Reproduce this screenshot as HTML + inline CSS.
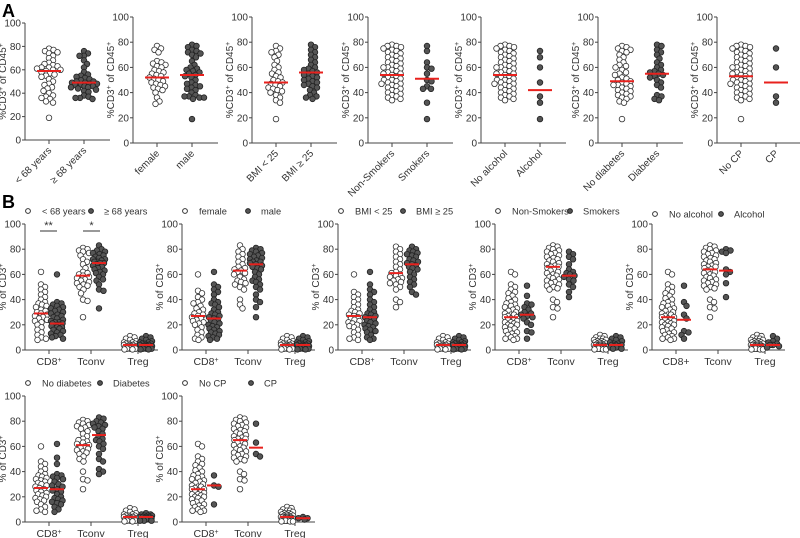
<!DOCTYPE html>
<html><head><meta charset="utf-8"><style>
html,body{margin:0;padding:0;background:#fff}
svg{display:block;font-family:"Liberation Sans",Arial,sans-serif}
</style></head><body>
<svg id="chart" width="800" height="538" viewBox="0 0 800 538" xmlns="http://www.w3.org/2000/svg">
<text x="2" y="17" font-size="18" font-weight="bold">A</text>
<text x="2" y="208" font-size="18" font-weight="bold">B</text>
</svg>
<script>
// ---------- Panel A data ----------
const aLabels = [["< 68 years","≥ 68 years"],["female","male"],["BMI < 25","BMI ≥ 25"],["Non-Smokers","Smokers"],["No alcohol","Alcohol"],["No diabetes","Diabetes"],["No CP","CP"]];
const aOpen = [
 [78,77,76,75,74,72,70,68,66,65,64,63,62,62,61,60,60,59,58,57,56,55,54,52,50,48,47,45,44,42,40,38,37,36,35,33,32,19],
 [77,75,74,72,65,64,63,62,61,60,58,57,56,55,54,53,52,51,50,49,48,47,46,45,44,43,42,40,36,33,31],
 [77,75,73,72,70,68,65,62,60,58,56,55,53,52,50,49,48,47,46,45,44,43,42,41,40,38,36,34,32,19],
 [78,77,77,76,75,74,73,72,71,70,69,68,67,66,65,64,63,62,61,60,60,59,58,57,56,55,55,54,53,52,51,50,50,49,48,47,47,46,45,44,43,42,41,40,39,38,37,36,35,34],
 [78,77,77,76,75,74,73,72,71,70,69,68,67,66,65,64,63,62,61,60,60,59,58,57,56,55,55,54,53,52,51,50,50,49,48,47,47,46,45,44,43,42,41,40,39,38,37,36,35,34],
 [77,76,75,74,73,72,70,68,66,64,62,61,60,58,56,55,54,52,51,50,49,48,47,46,46,45,44,43,42,41,40,39,38,37,36,35,33,32,19],
 [78,77,77,76,75,74,73,72,71,70,69,68,67,66,65,64,63,62,61,60,60,59,58,57,56,55,55,54,53,52,51,50,50,49,48,47,47,46,45,44,43,42,41,40,39,38,37,36,35,34,19]
];
const aFilled = [
 [76,74,72,72,68,65,62,58,56,55,54,53,52,51,50,50,49,49,48,48,47,47,46,46,45,45,44,43,42,41,38,37,36,36,35],
 [78,77,76,74,73,72,71,70,68,65,62,60,59,58,57,56,55,54,53,52,50,48,47,46,45,44,43,42,40,38,37,37,36,36,35,19],
 [78,76,74,72,70,68,66,64,62,60,59,58,57,56,55,54,53,52,51,50,49,48,47,46,45,44,42,40,38,37,36,35],
 [77,73,64,60,59,55,50,49,45,43,43,32,19],
 [73,68,60,48,37,32,19],
 [78,77,74,72,70,67,64,62,60,58,57,56,55,54,53,52,50,48,46,44,38,37,35,34],
 [75,60,37,32]
];
const aLineOpen = [59,52,48,54,54,49,53];
const aLineFilled = [49,54,56,51,42,55,48];
const aTicks = [0,20,40,60,80,100];

// ---------- Panel B data ----------
const bCategories = [["CD8","+"],["Tconv",""],["Treg",""]];
const bLegend = [["< 68 years","≥ 68 years"],["female","male"],["BMI < 25","BMI ≥ 25"],["Non-Smokers","Smokers"],["No alcohol","Alcohol"],["No diabetes","Diabetes"],["No CP","CP"]];
const cd8Big = [62,60,52,50,48,46,45,43,41,40,38,37,36,35,34,33,32,31,30,29,28,28,27,26,26,25,24,24,23,22,22,21,20,20,19,18,17,16,15,14,13,12,11,10,9,9,8];
const tconvBig = [83,82,81,80,79,78,77,76,75,74,73,72,71,70,69,68,67,66,66,65,64,63,62,61,60,59,58,57,56,55,54,53,52,51,50,49,48,40,38,34,33,26];
const tregBig = [12,11,10,9,9,8,8,7,7,6,6,6,5,5,5,5,4,4,4,4,4,3,3,3,3,3,2,2,2,2,2,1,1,1,1,1,0.5,0.5,0.5];
const tregMid = [11,10,9,8,7,6,6,5,5,5,4,4,4,4,3,3,3,3,2,2,2,1,1,1,0.5,0.5];
const bOpen = [
 [[62,52,50,48,46,44,42,40,38,37,36,35,34,32,31,30,29,28,27,26,25,24,23,22,20,18,16,14,12,10,9,8],
  [81,80,79,78,77,75,72,70,68,65,62,61,60,59,58,57,56,55,54,53,52,51,50,48,45,40,39,26], tregMid],
 [[60,47,45,42,40,38,37,35,33,32,30,29,28,27,26,25,24,23,22,21,20,18,16,14,12,10,9,8],
  [83,80,78,76,74,72,70,68,66,65,64,63,62,61,60,58,56,55,54,53,52,50,48,40,36,33], tregMid],
 [[60,46,44,42,40,38,36,34,32,31,30,29,28,27,26,25,24,23,22,21,20,19,18,16,14,12,10,9,8],
  [82,80,78,76,74,72,70,68,66,64,62,61,60,59,58,57,56,55,54,53,52,50,48,40,38,34], tregMid],
 [cd8Big, tconvBig, tregBig],
 [cd8Big, tconvBig, tregBig],
 [[60,48,46,44,42,40,38,37,36,35,34,33,32,31,30,29,28,27,26,25,24,23,22,21,20,19,18,17,16,14,12,10,9,8],
  [81,80,79,78,77,76,75,74,72,70,68,66,65,64,63,62,61,60,59,58,57,56,55,54,52,50,48,40,34,33,26], tregMid],
 [cd8Big, tconvBig, tregBig]
];
const bFilled = [
 [[60,38,37,36,35,34,33,32,31,30,29,28,27,26,25,24,23,22,22,21,21,20,20,19,19,18,18,17,16,15,14,13,12,11,10,9],
  [83,80,79,78,77,76,75,74,73,72,72,71,70,70,69,69,68,67,66,65,64,63,62,61,60,58,56,55,52,48,47,33], tregMid],
 [[62,52,50,48,46,44,40,38,37,36,34,32,30,29,28,27,26,25,24,23,22,21,20,19,18,17,16,15,14,13,12,11,10,9,8],
  [81,80,79,78,77,76,75,74,73,72,71,70,70,69,68,67,66,65,64,62,60,58,56,55,54,52,50,48,44,40,38,34,26], tregMid],
 [[62,52,48,46,44,40,38,36,34,32,30,29,28,27,26,25,24,23,22,21,20,19,18,17,16,15,14,12,10,9,8],
  [82,80,79,78,77,76,75,74,72,71,70,69,68,67,66,65,64,62,60,58,56,54,52,50,46,44], tregMid],
 [[51,43,37,36,34,32,30,29,28,27,26,25,22,20,15,14,9],
  [78,76,74,72,68,64,62,61,60,59,58,56,55,52,50,46,42],
  [11,10,9,8,7,6,5,5,4,4,4,3,3,2,2,1,1]],
 [[51,38,35,28,25,15,14,12,9],[80,79,78,77,64,62,60,53,42],[11,9,7,6,5,4,4,3,2]],
 [[62,51,46,38,37,36,35,34,32,30,29,28,26,25,24,22,20,19,18,17,16,15,14,12,10,8],
  [83,82,80,79,78,77,76,75,74,72,70,68,66,65,64,62,60,58,54,50,48,42,40,38],
  [7,6,6,5,5,5,4,4,4,4,3,3,3,2,2,2,1,1,1]],
 [[37,29,28,14],[78,63,52,54],[4,3,3,2]]
];
const bLineOpen = [[29,59,4],[27,63,4],[27,61,4],[26,66,4],[26,64,4],[27,61,4],[26,65,4]];
const bLineFilled = [[21,69,4],[25,68,4],[26,68,4],[28,59,4],[24,63,4],[26,69,4],[29,59,3]];
const bTicks = [0,20,40,60,80,100];

// ---------- drawing ----------
const NS = "http://www.w3.org/2000/svg";
const svg = document.getElementById("chart");
function mk(tag, attrs, parent) {
  const e = document.createElementNS(NS, tag);
  for (const k in attrs) e.setAttribute(k, attrs[k]);
  (parent || svg).appendChild(e);
  return e;
}
const R = 2.8;
function swarm(values, cx, yScale, maxHalf) {
  const placed = [];
  const sorted = values.slice().sort((a, b) => b - a);
  const thr = 1.6 * R;
  for (const v of sorted) {
    const y = yScale(v);
    let chosen = null, bestX = cx, bestD = -1;
    for (let k = 0; ; k++) {
      const off = (k % 2 ? 1 : -1) * Math.ceil(k / 2) * 0.5;
      if (Math.abs(off) > maxHalf) break;
      const x = cx + off;
      let md = 1e9;
      for (const p of placed) {
        const dx = p[0] - x, dy = p[1] - y;
        md = Math.min(md, Math.sqrt(dx * dx + dy * dy));
      }
      if (md >= thr) { chosen = x; break; }
      if (md > bestD + 0.3) { bestD = md; bestX = x; }
    }
    if (chosen === null) chosen = bestX;
    placed.push([chosen, y]);
  }
  return placed;
}
function drawDots(g, values, cx, yScale, filled, name, maxHalf) {
  for (const [x, y] of swarm(values, cx, yScale, maxHalf)) {
    const c = mk("circle", {cx: x.toFixed(1), cy: y.toFixed(1), r: R, fill: filled ? "#555" : "#fff", stroke: filled ? "#222" : "#333", "stroke-width": 0.8}, g);
    
    
  }
}
function drawLine(g, v, cx, yScale, name, hw) {
  const l = mk("line", {x1: cx - hw, x2: cx + hw, y1: yScale(v), y2: yScale(v), stroke: "#e8211d", "stroke-width": 2}, g);
  
  
}
function yAxis(g, ax, top, bot, ticks, label, labelX) {
  const ys = v => bot - (bot - top) * v / 100;
  mk("line", {x1: ax, x2: ax, y1: top, y2: bot, stroke: "#444", "stroke-width": 1}, g);
  for (const t of ticks) {
    mk("line", {x1: ax - 3, x2: ax, y1: ys(t), y2: ys(t), stroke: "#444"}, g);
    const tx = mk("text", {x: ax - 4, y: ys(t) + 3.5, "font-size": 10, "text-anchor": "end", fill: "#333"}, g);
    tx.textContent = t;
  }
  const cy = (top + bot) / 2;
  const tl = mk("text", {transform: `translate(${labelX},${cy}) rotate(-90)`, "font-size": 10, "text-anchor": "middle", fill: "#333"}, g);
  
  
  for (const part of label) {
    const s = mk("tspan", part[1] ? {"baseline-shift": "super", "font-size": 7} : {}, tl);
    s.textContent = part[0];
  }
  return ys;
}

// Panel A
const aAxisX = [25, 133, 252, 368, 481, 598, 717];
aAxisX.forEach((ax, i) => {
  const g = mk("g", {});
  
  
  const top = i === 0 ? 23 : 17, bot = i === 0 ? 140 : 143;
  const ys = yAxis(g, ax, top, bot, aTicks, [["%CD3"],["+",1],[" of CD45"],["+",1]], ax - 19);
  const x1 = ax + 24, x2 = ax + 59;
  mk("line", {x1: ax, x2: ax + 85, y1: bot, y2: bot, stroke: "#444"}, g);
  [x1, x2].forEach((cx, j) => {
    mk("line", {x1: cx, x2: cx, y1: bot, y2: bot + 4, stroke: "#444"}, g);
    const t = mk("text", {transform: `translate(${cx + 3},${bot + 11}) rotate(-45)`, "font-size": 10, "text-anchor": "end", fill: "#333"}, g);
    t.textContent = aLabels[i][j];
    
    
  });
  drawDots(g, aOpen[i], x1, ys, false, 'point-open', 13);
  drawDots(g, aFilled[i], x2, ys, true, 'point-filled', 13);
  drawLine(g, aLineOpen[i], x1, ys, 'mean-line-open', 12);
  drawLine(g, aLineFilled[i], x2, ys, 'mean-line-filled', 12);
});

// Panel B
const bPos = [[25,224,350,214],[182,224,350,214],[338,224,350,214],[495,224,350,214],[652,224,350,217],[25,396,522,386],[182,396,522,386]];
const bLegOff = [63,63,62,72,66,72,66];
bPos.forEach(([ax, top, bot, ly], i) => {
  const g = mk("g", {});
  
  
  const ys = yAxis(g, ax, top, bot, bTicks, [["% of CD3"],["+",1]], ax - 19);
  mk("line", {x1: ax, x2: ax + 133, y1: bot, y2: bot, stroke: "#444"}, g);
  const leg = mk("g", {}, g);
  
  
  mk("circle", {cx: ax + 3, cy: ly - 3, r: 2.4, fill: "#fff", stroke: "#333"}, leg);
  const t1 = mk("text", {x: ax + 17, y: ly + 0.5, "font-size": 9.3, fill: "#333"}, leg);
  t1.textContent = bLegend[i][0];
  mk("circle", {cx: ax + bLegOff[i] + 3, cy: ly - 3, r: 2.4, fill: "#555", stroke: "#222"}, leg);
  const t2 = mk("text", {x: ax + bLegOff[i] + 16, y: ly + 0.5, "font-size": 9.3, fill: "#333"}, leg);
  t2.textContent = bLegend[i][1];
  const cats = [ax + 24, ax + 66, ax + 113];
  cats.forEach((cx, c) => {
    mk("line", {x1: cx, x2: cx, y1: bot, y2: bot + 4, stroke: "#444"}, g);
    const t = mk("text", {x: cx, y: bot + 15, "font-size": 10.5, "text-anchor": "middle", fill: "#333"}, g);
    
    
    const s = mk("tspan", {}, t); s.textContent = (i === 4 && c === 0) ? "CD8+" : bCategories[c][0];
    if (bCategories[c][1] && i !== 4) { const s2 = mk("tspan", {"baseline-shift": "super", "font-size": 7}, t); s2.textContent = bCategories[c][1]; }
    const xo = cx - 8, xf = cx + 8;
    drawDots(g, bOpen[i][c], xo, ys, false, 'point-open', 6);
    drawDots(g, bFilled[i][c], xf, ys, true, 'point-filled', 6);
    drawLine(g, bLineOpen[i][c], xo, ys, 'mean-line-open', 7);
    drawLine(g, bLineFilled[i][c], xf, ys, 'mean-line-filled', 7);
  });
  if (i === 0) {
    [[ax + 15, ax + 32, "**"], [ax + 58, ax + 75, "*"]].forEach(([a, b, s]) => {
      mk("line", {x1: a, x2: b, y1: 231, y2: 231, stroke: "#333"}, g);
      const t = mk("text", {x: (a + b) / 2, y: 229, "font-size": 11, "text-anchor": "middle", fill: "#333"}, g);
      t.textContent = s;
      
      
    });
  }
});
</script>
</body></html>
